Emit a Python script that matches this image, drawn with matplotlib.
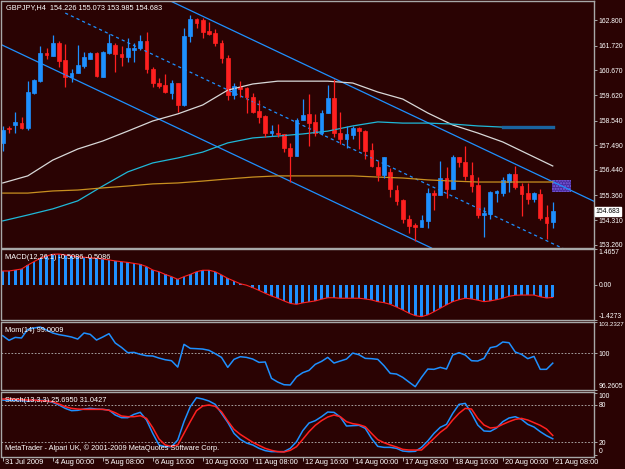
import numpy as np
import matplotlib.pyplot as plt
import matplotlib.transforms as mtransforms
from matplotlib.patches import Rectangle

plt.rcParams['font.family'] = ['Liberation Sans', 'DejaVu Sans']

# GBPJPY H4 candles, 31 Jul 2009 16:00 .. 21 Aug 2009 08:00
opens = [157.59, 158.22, 158.35, 158.43, 158.22, 159.71, 160.21, 161.40, 161.27, 161.83,
         161.10, 160.38, 160.55, 160.85, 161.15, 161.40, 160.38, 161.40, 161.74, 161.36,
         161.23, 161.53, 161.61, 161.91, 160.72, 160.13, 160.04, 159.71, 160.13, 159.20,
         162.12, 162.84, 162.80, 162.33, 162.25, 161.83, 161.19, 159.62, 159.96, 159.92,
         159.54, 158.94, 158.73, 158.01, 158.01, 157.97, 157.37, 157.03, 158.56, 158.82,
         158.48, 158.01, 158.86, 159.49, 158.01, 157.75, 157.92, 158.22, 158.09, 157.29,
         156.57, 156.23, 156.35, 155.59, 155.17, 154.36, 154.11, 154.02, 154.28, 155.46,
         155.38, 156.10, 155.63, 156.99, 156.78, 156.23, 155.80, 154.53, 154.57, 155.46,
         155.46, 155.93, 156.27, 155.76, 155.46, 155.21, 155.42, 154.45, 154.226]
highs = [158.31, 158.31, 158.90, 158.69, 160.21, 160.30, 161.70, 161.61, 162.17, 161.91,
         161.78, 160.72, 161.74, 161.44, 161.44, 161.44, 161.49, 162.21, 161.83, 161.70,
         162.04, 161.83, 162.17, 162.29, 160.81, 160.34, 160.51, 160.26, 160.13, 162.46,
         163.01, 162.89, 162.89, 162.72, 162.42, 161.95, 161.32, 160.13, 160.21, 159.96,
         159.71, 159.41, 158.77, 158.35, 158.39, 157.97, 157.59, 158.65, 159.45, 159.66,
         158.82, 158.99, 160.04, 160.30, 158.90, 158.31, 158.31, 158.26, 158.14, 157.59,
         156.82, 156.99, 156.52, 155.80, 155.21, 154.53, 154.19, 154.53, 155.68, 155.59,
         156.82, 156.57, 157.08, 156.99, 157.46, 156.78, 156.14, 154.87, 155.55, 155.59,
         156.14, 156.31, 156.61, 155.89, 155.89, 155.51, 155.63, 154.96, 155.073]
lows = [157.25, 158.01, 158.01, 158.18, 158.14, 159.66, 160.17, 161.15, 161.27, 160.81,
        159.96, 160.17, 160.55, 160.77, 161.15, 160.38, 160.38, 161.36, 160.60, 160.85,
        161.02, 161.02, 161.53, 160.55, 159.96, 159.92, 159.71, 159.45, 158.90, 159.15,
        161.87, 162.46, 162.04, 162.17, 161.70, 160.98, 159.41, 159.45, 159.54, 158.86,
        158.86, 158.43, 157.84, 157.88, 157.84, 157.20, 155.93, 157.03, 158.56, 157.46,
        157.88, 157.92, 158.86, 157.84, 157.54, 157.37, 157.75, 157.33, 156.91, 156.57,
        155.97, 156.10, 155.30, 154.96, 154.19, 153.77, 153.43, 154.02, 153.98, 154.74,
        155.38, 155.25, 155.63, 156.57, 156.02, 155.51, 154.40, 153.60, 154.36, 155.08,
        155.34, 155.51, 155.63, 154.49, 155.00, 155.08, 154.32, 153.51, 153.985]
closes = [158.14, 158.16, 158.48, 158.22, 159.75, 160.26, 161.40, 161.32, 161.83, 161.06,
          160.38, 160.55, 160.89, 161.23, 161.40, 160.43, 161.44, 161.83, 161.36, 161.23,
          161.61, 161.61, 161.91, 160.72, 160.13, 160.00, 159.75, 160.13, 159.20, 162.12,
          162.84, 162.67, 162.29, 162.21, 161.83, 161.19, 159.62, 160.00, 159.88, 159.54,
          158.90, 158.69, 158.01, 158.09, 157.97, 157.37, 157.03, 158.56, 158.77, 158.43,
          158.01, 158.86, 159.49, 158.01, 157.75, 157.97, 158.22, 158.09, 157.25, 156.61,
          156.23, 156.99, 155.63, 155.13, 154.36, 154.07, 154.02, 154.32, 155.46, 155.38,
          156.10, 155.63, 156.99, 156.78, 156.19, 155.76, 154.53, 154.62, 155.51, 155.55,
          156.02, 156.27, 155.72, 155.42, 155.21, 155.46, 154.40, 154.19, 154.683]

# moving averages, read every 4th bar
ma_bars = list(range(0, 89, 4))
ma_white = [155.89, 156.19, 156.86, 157.33, 157.67, 158.09, 158.52, 158.82, 159.20, 159.83,
            160.09, 160.21, 160.21, 160.21, 160.13, 159.75, 159.45, 158.86, 158.35, 158.01,
            157.63, 157.12, 156.61]
ma_cyan = [154.28, 154.53, 154.79, 155.13, 155.76, 156.36, 156.74, 156.95, 157.20, 157.59,
           157.80, 157.88, 157.97, 158.09, 158.31, 158.48, 158.43, 158.43, 158.39, 158.31,
           158.26, 158.26, 158.26]
ma_orange = [155.46, 155.46, 155.55, 155.59, 155.68, 155.76, 155.85, 155.89, 155.97, 156.06,
             156.14, 156.19, 156.19, 156.19, 156.19, 156.14, 156.10, 156.02, 155.97, 155.93,
             155.93, 155.93, 155.93]

# channel anchors (bar, price)
upper_a, upper_b = (27, 163.59), (88, 155.94)
lower_a, lower_b = (0, 161.73), (67, 153.33)
mid_bars = [10, 100]
mid_price = [163.10, 151.81]
box_bar, box_w = 87.9, 3.0
box_lo, box_hi = 155.51, 156.02

price_ticks = [162.800, 161.720, 160.670, 159.620, 158.540, 157.490, 156.440, 155.360, 154.310, 153.260]

macd = [0.57, 0.57, 0.61, 0.65, 0.81, 0.95, 1.09, 1.18, 1.25, 1.26,
        1.22, 1.19, 1.15, 1.13, 1.11, 1.09, 1.06, 1.02, 0.98, 0.95,
        0.92, 0.88, 0.84, 0.75, 0.61, 0.54, 0.43, 0.34, 0.23, 0.34,
        0.43, 0.54, 0.60, 0.60, 0.54, 0.41, 0.27, 0.16, 0.05, -0.01,
        -0.11, -0.22, -0.34, -0.45, -0.54, -0.65, -0.75, -0.79, -0.73, -0.69,
        -0.65, -0.58, -0.52, -0.52, -0.54, -0.54, -0.54, -0.54, -0.57, -0.61,
        -0.68, -0.72, -0.79, -0.90, -1.02, -1.15, -1.25, -1.29, -1.22, -1.09,
        -0.95, -0.81, -0.68, -0.60, -0.54, -0.57, -0.62, -0.68, -0.65, -0.60,
        -0.54, -0.46, -0.42, -0.41, -0.41, -0.41, -0.48, -0.53, -0.5086]
macd_signal = macd  # signal period 1

mom = [101.80, 101.33, 101.63, 101.57, 102.45, 102.59, 102.69, 102.38, 102.08, 101.91,
       101.80, 101.67, 101.46, 102.08, 101.94, 101.36, 101.67, 102.01, 101.06, 100.61,
       100.07, 100.10, 99.90, 99.76, 99.73, 99.52, 99.35, 99.25, 98.60, 100.92,
       100.51, 100.48, 100.44, 100.31, 99.97, 99.59, 98.57, 99.39, 99.66, 99.59,
       99.42, 99.08, 99.12, 97.45, 97.07, 96.80, 96.77, 97.60, 98.03, 98.26,
       98.88, 99.18, 99.59, 99.01, 99.22, 99.42, 100.03, 99.86, 99.49, 99.46,
       99.39, 98.74, 97.96, 97.89, 97.55, 97.07, 96.60, 97.55, 98.40, 98.37,
       98.57, 98.40, 99.83, 100.07, 99.83, 99.25, 99.22, 99.49, 100.58, 100.71,
       101.16, 101.09, 100.14, 99.90, 99.46, 99.69, 98.37, 98.37, 99.0009]

stoch_k = [88.0, 87.5, 87.5, 86.9, 86.4, 87.5, 87.5, 86.9, 84.2, 80.0,
           74.6, 70.9, 71.4, 73.5, 74.6, 73.5, 73.0, 71.9, 63.9, 59.6,
           59.6, 65.0, 68.2, 55.9, 34.4, 15.7, 13.0, 13.0, 23.7, 53.2,
           77.3, 91.7, 89.6, 86.4, 81.0, 66.6, 52.1, 34.4, 24.8, 18.9,
           15.7, 10.3, 6.6, 5.0, 5.0, 5.0, 10.3, 21.0, 38.7, 51.0,
           54.8, 61.2, 68.7, 68.2, 60.7, 46.2, 46.8, 47.3, 42.5, 26.4,
           13.5, 11.9, 11.9, 10.3, 6.0, 5.0, 5.5, 11.9, 22.1, 34.4,
           44.1, 48.9, 66.6, 81.0, 82.6, 66.6, 47.8, 38.2, 37.6, 43.0,
           53.2, 59.1, 61.2, 56.9, 48.9, 44.6, 37.1, 30.7, 25.695]
stoch_d = [89.6, 89.6, 89.1, 88.5, 88.0, 88.0, 86.9, 86.4, 85.3, 81.6,
           77.3, 74.6, 73.5, 73.0, 73.0, 73.0, 73.0, 71.4, 67.6, 62.3,
           61.2, 61.2, 62.8, 58.5, 43.5, 25.3, 15.7, 13.5, 15.7, 34.4,
           53.2, 70.9, 78.4, 80.0, 77.8, 69.2, 54.3, 40.9, 32.8, 26.4,
           20.0, 15.1, 10.3, 7.1, 5.0, 4.4, 7.1, 13.0, 24.8, 37.1,
           47.3, 54.8, 60.7, 63.9, 61.2, 53.2, 50.0, 48.4, 45.1, 34.4,
           24.3, 19.4, 15.7, 12.5, 8.7, 7.6, 7.6, 7.6, 16.8, 26.4,
           36.0, 43.5, 55.9, 66.6, 74.6, 73.5, 58.5, 47.8, 43.0, 44.1,
           48.9, 53.2, 56.9, 58.5, 55.9, 51.6, 47.3, 41.4, 31.0427]

time_bars = [0, 8, 16, 24, 32, 40, 48, 56, 64, 72, 80, 88]
time_labels = ["31 Jul 2009", "4 Aug 00:00", "5 Aug 08:00", "6 Aug 16:00", "10 Aug 00:00",
               "11 Aug 08:00", "12 Aug 16:00", "14 Aug 00:00", "17 Aug 08:00",
               "18 Aug 16:00", "20 Aug 00:00", "21 Aug 08:00"]

bg = '#2a0303'
fg = 'white'
edge = '#a8a8a8'
blue = '#1e90ff'
red = '#ff2020'
fs = 5.3
yfs = 4.9

W, H = 625, 469
fig = plt.figure(figsize=(W / 100, H / 100), dpi=100, facecolor=bg)


def panel(y0, y1):
    a = fig.add_axes([1.5 / W, 1 - y1 / H, (594 - 1.5) / W, (y1 - y0) / H])
    a.set_facecolor(bg)
    for s in a.spines.values():
        s.set_color(edge)
        s.set_linewidth(1.0)
    a.set_xlim(-0.2, 94.6)
    a.yaxis.tick_right()
    a.tick_params(axis='y', colors=fg, labelsize=yfs, length=2.5, width=0.7, pad=0.6)
    a.tick_params(axis='y', color=edge)
    a.tick_params(axis='x', bottom=False, labelbottom=False)
    return a


ax = panel(1.5, 248)
ax_macd = panel(249, 320)
ax_mom = panel(321.7, 390)
ax_sto = panel(392, 456.5)

x = np.arange(len(opens))

# main chart
ax.set_ylim(153.13, 163.59)
ax.axline(upper_a, upper_b, color=blue, lw=0.9)
ax.axline(lower_a, lower_b, color=blue, lw=0.9)
ax.plot(mid_bars, mid_price, color=blue, lw=0.9, ls=(0, (2.5, 2.5)))
ax.plot(ma_bars, ma_white, color='#d8d8d8', lw=0.9)
ax.plot(ma_bars, ma_cyan, color='#1fb8d8', lw=0.9)
ax.plot(ma_bars[-3:], ma_cyan[-3:], color='#1a64a0', lw=2.4)
ax.plot(ma_bars, ma_orange, color='#c89020', lw=0.9)
ax.add_patch(Rectangle((box_bar, box_lo), box_w, box_hi - box_lo, facecolor='#4a2a9c',
                       edgecolor='#7c60e0', hatch='......', lw=0))

o, h, l, c = map(np.array, (opens, highs, lows, closes))
cols = np.where(c >= o, blue, red)
ax.vlines(x, l, h, colors=cols, lw=0.9)
ax.bar(x, np.abs(c - o), bottom=np.minimum(o, c), width=0.62, color=cols,
       edgecolor=cols, linewidth=0.5)

ax.set_yticks(price_ticks, [f"{p:.3f}" for p in price_ticks])
tr = mtransforms.blended_transform_factory(ax.transAxes, ax.transData)
ax.text(1.003, closes[-1], f"{closes[-1]:.3f}", transform=tr, ha='left', va='center',
        fontsize=yfs, color='black',
        bbox=dict(facecolor='white', edgecolor='white', pad=0.5))

# MACD
ax_macd.set_ylim(-1.4273, 1.4657)
ax_macd.bar(x, macd, width=0.42, color=blue)
ax_macd.plot(x, macd_signal, color=red, lw=0.8)
ax_macd.set_yticks([1.4657, 0.0, -1.4273], ["1.4657", "0.00", "-1.4273"])
mt = ax_macd.get_yticklabels()
mt[0].set_va('top')
mt[2].set_va('bottom')

# Momentum
ax_mom.set_ylim(96.2605, 103.2327)
ax_mom.axhline(100, color='#b8b8b8', lw=0.6, ls=(0, (2, 2)))
ax_mom.plot(x, mom, color=blue, lw=1.1)
ax_mom.set_yticks([103.2327, 100, 96.2605], ["103.2327", "100", "96.2605"])
mt = ax_mom.get_yticklabels()
mt[0].set_va('top')
mt[0].set_fontsize(4.4)
mt[2].set_va('bottom')

# Stochastic
ax_sto.set_ylim(-2.8, 100.9)
ax_sto.axhline(80, color='#b8b8b8', lw=0.6, ls=(0, (2, 2)))
ax_sto.axhline(20, color='#b8b8b8', lw=0.6, ls=(0, (2, 2)))
ax_sto.plot(x, stoch_k, color=blue, lw=1.1)
ax_sto.plot(x, stoch_d, color=red, lw=1.1)
ax_sto.set_yticks([100, 80, 20, 0], ["100", "80", "20", "0"])
mt = ax_sto.get_yticklabels()
mt[0].set_va('top')
mt[3].set_va('bottom')

# time axis
ax_sto.tick_params(axis='x', bottom=True, labelbottom=False, length=3, width=0.7,
                   color=edge)
ax_sto.set_xticks(time_bars)
off = mtransforms.ScaledTranslation(2.5 / 100, -2.5 / 100, fig.dpi_scale_trans)
ttr = mtransforms.blended_transform_factory(ax_sto.transData, ax_sto.transAxes) + off
for b, lab in zip(time_bars, time_labels):
    ax_sto.text(b, 0, lab, transform=ttr, ha='left', va='top', fontsize=fs, color=fg)

# panel captions
def caption(px, py, s):
    fig.text(px / W, 1 - py / H, s, fontsize=fs, color=fg, va='center', ha='left')


caption(6, 8, "GBPJPY,H4  154.226 155.073 153.985 154.683")
caption(5, 257, "MACD(12,26,1) -0.5086 -0.5086")
caption(5, 330, "Mom(14) 99.0009")
caption(5, 400, "Stoch(13,3,3) 25.6950 31.0427")
caption(5, 448, "MetaTrader - Alpari UK, \u00a9 2001-2009 MetaQuotes Software Corp.")

fig.savefig("out.png", dpi=100, facecolor=bg)
